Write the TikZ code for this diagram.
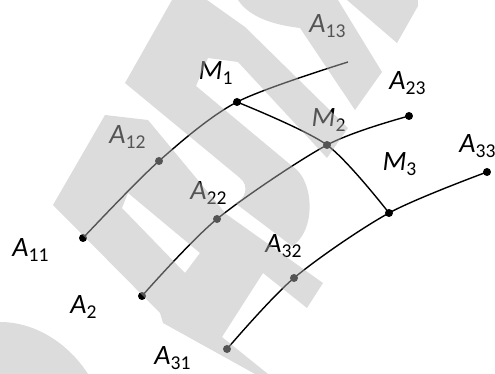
\documentclass[tikz,border=0pt]{standalone}
\usepackage{fontspec}
\setmainfont{Carlito}
\usepackage{tikz}
\definecolor{wmgray}{RGB}{180,180,180}
\newcommand{\ptlab}[2]{\textit{#1}\textsubscript{#2}}

\tikzset{
  dot/.style={circle, fill=black, inner sep=0pt, minimum size=4pt},
  curve/.style={line width=0.7pt},
  lbl/.style={inner sep=0pt, font=\fontsize{14}{16}\selectfont},
  wm/.style={fill=wmgray, fill opacity=0.47}
}

\begin{document}
\begin{tikzpicture}[x=0.5pt, y=-0.5pt]
	\useasboundingbox (0,0) rectangle (495,374);

	\node (a11) at (83,238) [dot] {};
	\node (a12) at (159,161) [dot] {};
	\node (m1) at (237,102) [dot] {};
	\coordinate (e13) at (348,62);
	\node (a21) at (142,296) [dot] {};
	\node (a22) at (217,219) [dot] {};
	\node (m2) at (327,145) [dot] {};
	\node (a23) at (409,116) [dot] {};
	\node (a31) at (227,349) [dot] {};
	\node (a32) at (294,278) [dot] {};
	\node (m3) at (389,213) [dot] {};
	\node (a33) at (487,172) [dot] {};

	\draw [curve] plot [smooth] coordinates {(a11) (a12) (m1) (e13)};
	\draw [curve] plot [smooth] coordinates {(a21) (a22) (m2) (a23)};
	\draw [curve] plot [smooth] coordinates {(a31) (a32) (m3) (a33)};
	\draw [curve] plot [smooth] coordinates {(m1) (m2) (m3)};

	\node (t13) at (328,26) [lbl] {\ptlab{A}{13}};
	\node (tm1) at (216,73) [lbl] {\ptlab{M}{1}};
	\node (t23) at (408,83) [lbl] {\ptlab{A}{23}};
	\node (t12) at (128,137) [lbl] {\ptlab{A}{12}};
	\node (tm2) at (329,120) [lbl] {\ptlab{M}{2}};
	\node (tm3) at (400,164) [lbl] {\ptlab{M}{3}};
	\node (t33) at (478,146) [lbl] {\ptlab{A}{33}};
	\node (t22) at (209,193) [lbl] {\ptlab{A}{22}};
	\node (t11) at (31,250) [lbl] {\ptlab{A}{11}};
	\node (t32) at (284,246) [lbl] {\ptlab{A}{32}};
	\node (t21) at (84,307) [lbl] {\ptlab{A}{2}};
	\node (t31) at (173,358) [lbl] {\ptlab{A}{31}};

	% watermark
	\fill [wm] (172,0) -- (207,0) -- (245,27) -- (348,128) -- (327,158) -- (238,62) -- (208,58) -- (196,86)
		-- (292,166) .. controls (315,180) and (316,232) .. (292,246) -- (235,203)
		.. controls (245,200) and (250,186) .. (240,178) -- (125,83) -- cycle;
	\fill [wm] (238,0) -- (338,0) -- (382,72) -- (355,110) -- (300,28) .. controls (275,25) and (250,18) .. (238,0) -- cycle;
	\fill [wm] (347,0) -- (418,0) -- (418,6) -- (397,43) -- cycle;
	\fill [wm, even odd rule] (105,115) -- (148,120) -- (226,214) -- (323,283) -- (307,308) -- (263,273) -- (222,337)
		-- (268,374) -- (255,374) -- (163,323) -- (160,313) -- (53,205) -- cycle
		(122,208) -- (128,193) -- (200,253) -- (185,273) -- cycle;
	\fill [wm] (0,322) .. controls (35,322) and (68,343) .. (88,374) -- (0,374) -- cycle;
\end{tikzpicture}
\end{document}
